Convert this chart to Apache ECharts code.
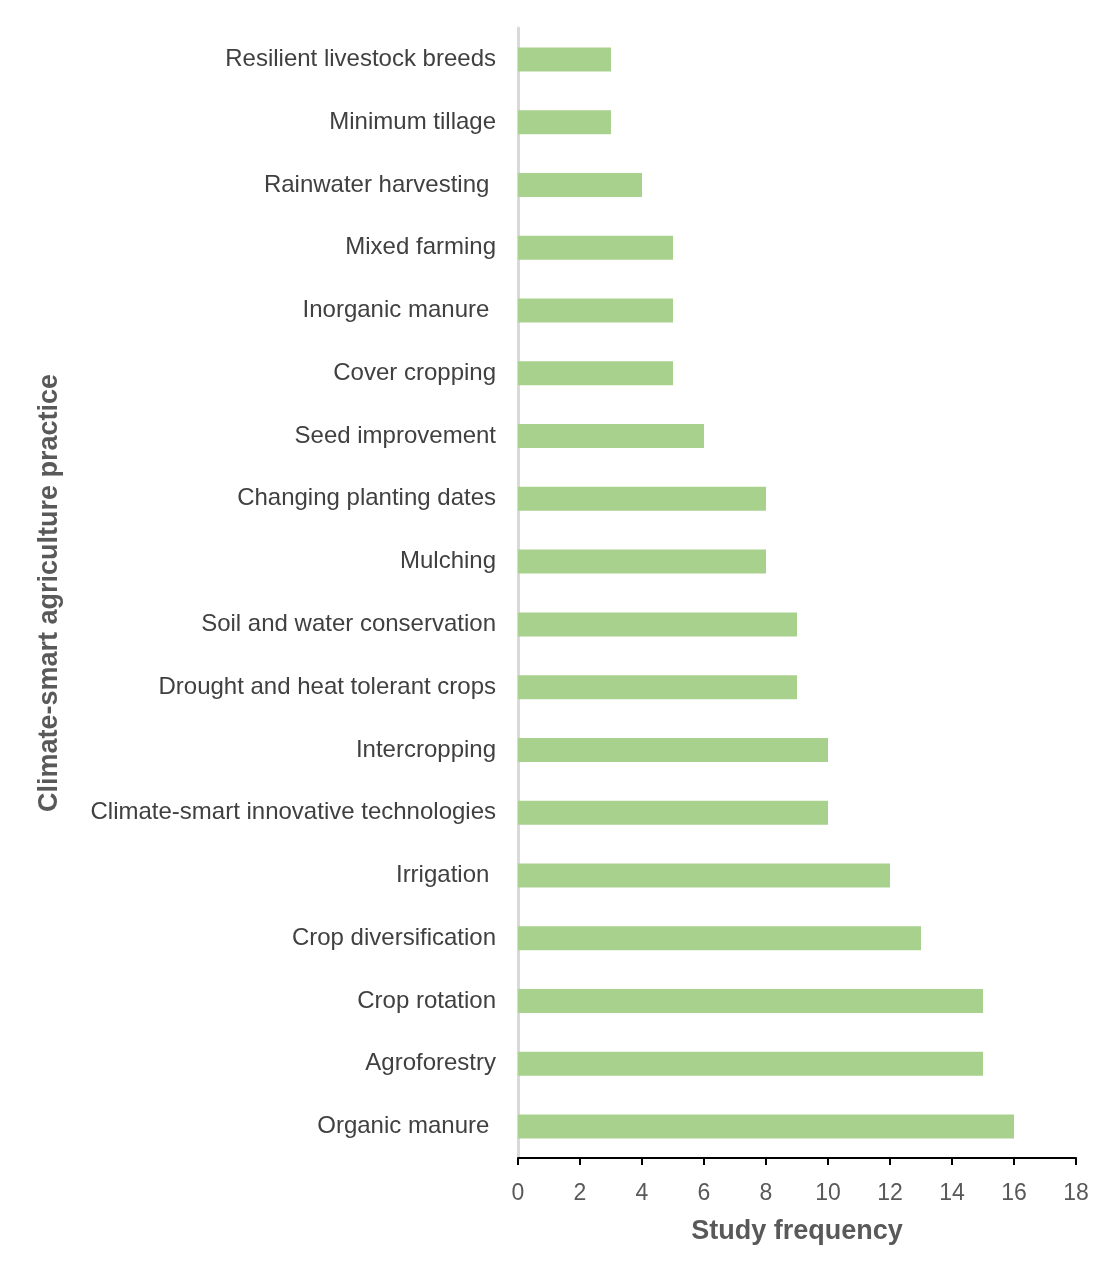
<!DOCTYPE html>
<html>
<head>
<meta charset="utf-8">
<script src="https://cdn.jsdelivr.net/npm/echarts@6/dist/echarts.min.js"></script>
<style>
  html, body { margin: 0; padding: 0; background: #fff; }
  #chart { width: 1118px; height: 1278px; }
</style>
</head>
<body>
<div id="chart"></div>
<script>
// top to bottom, as shown
const practices = [
  'Resilient livestock breeds',
  'Minimum tillage',
  'Rainwater harvesting ',
  'Mixed farming',
  'Inorganic manure ',
  'Cover cropping',
  'Seed improvement',
  'Changing planting dates',
  'Mulching',
  'Soil and water conservation',
  'Drought and heat tolerant crops',
  'Intercropping',
  'Climate-smart innovative technologies',
  'Irrigation ',
  'Crop diversification',
  'Crop rotation',
  'Agroforestry',
  'Organic manure '
]
const studyFrequency = [3, 3, 4, 5, 5, 5, 6, 8, 8, 9, 9, 10, 10, 12, 13, 15, 15, 16]

const font = 'Liberation Sans, Arial, sans-serif'
const chart = echarts.init(document.getElementById('chart'))

chart.setOption({
  animation: false,
  grid: {
    left: 518,
    right: 42,
    top: 28,
    bottom: 120
  },
  xAxis: {
    type: 'value',
    min: 0,
    max: 18,
    interval: 2,
    name: 'Study frequency',
    nameLocation: 'middle',
    nameGap: 60,
    nameTextStyle: {
      fontFamily: font,
      fontSize: 27,
      fontWeight: 'bold',
      color: '#595959'
    },
    axisLine: { show: true, lineStyle: { color: '#000', width: 2 } },
    axisTick: { show: true, length: 7, lineStyle: { color: '#000', width: 2 } },
    axisLabel: {
      fontFamily: font,
      fontSize: 23,
      color: '#595959',
      margin: 24
    },
    splitLine: { show: false }
  },
  yAxis: {
    type: 'category',
    inverse: true,
    data: practices,
    name: 'Climate-smart agriculture practice',
    nameLocation: 'middle',
    nameGap: 455,
    nameRotate: 90,
    nameTextStyle: {
      fontFamily: font,
      fontSize: 27,
      fontWeight: 'bold',
      color: '#595959'
    },
    axisLine: { show: true, lineStyle: { color: '#d9d9d9', width: 3 } },
    axisTick: { show: false },
    axisLabel: {
      fontFamily: font,
      fontSize: 24,
      color: '#404040',
      margin: 22
    }
  },
  series: [{
    type: 'bar',
    data: studyFrequency,
    barWidth: 24,
    itemStyle: { color: '#a9d18e' }
  }]
})
</script>
</body>
</html>
